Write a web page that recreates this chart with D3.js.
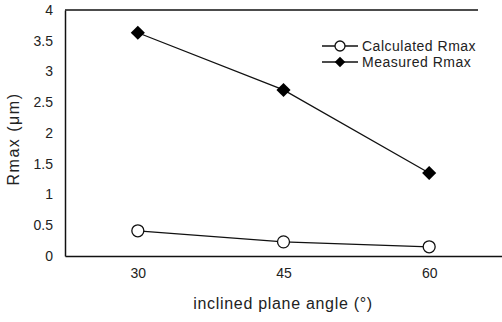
<!DOCTYPE html>
<html>
<head>
<meta charset="utf-8">
<script src="https://cdn.jsdelivr.net/npm/d3@7"></script>
<style>
  body { margin: 0; background: #fff; }
  text { font-family: "Liberation Sans", Arial, sans-serif; fill: #222; }
</style>
</head>
<body>
<div id="chart"></div>
<script>
const angles = ['30', '45', '60'];
const calculated = [0.41, 0.23, 0.15];
const measured = [3.63, 2.70, 1.35];
const yTicks = [0, 0.5, 1, 1.5, 2, 2.5, 3, 3.5, 4];

const width = 502;
const height = 322;
const plotLeft = 65, plotRight = 502, plotTop = 10, plotBottom = 256;

const svg = d3.select('#chart')
  .append('svg')
  .attr('width', width)
  .attr('height', height);

const xScale = d3.scalePoint()
  .domain(angles)
  .range([plotLeft, plotRight])
  .padding(0.5);

const yScale = d3.scaleLinear()
  .domain([0, 4])
  .range([plotBottom, plotTop]);

// frame
svg.append('line')
  .attr('x1', plotLeft).attr('x2', 478)
  .attr('y1', plotTop).attr('y2', plotTop)
  .attr('stroke', '#111').attr('stroke-width', 1.5);

const styleText = g => g.selectAll('text')
  .attr('font-size', 14)
  .style('font-family', '"Liberation Sans", Arial, sans-serif')
  .attr('fill', '#222');

const yAxis = d3.axisLeft(yScale).tickValues(yTicks).tickSize(0).tickPadding(12)
  .tickFormat(d => d);
svg.append('g')
  .attr('transform', `translate(${plotLeft},0)`)
  .call(yAxis)
  .call(g => g.select('.domain').attr('stroke', '#111').attr('stroke-width', 1.5))
  .call(styleText);

const xAxis = d3.axisBottom(xScale).tickSize(0).tickPadding(12);
svg.append('g')
  .attr('transform', `translate(0,${plotBottom})`)
  .call(xAxis)
  .call(g => g.select('.domain').attr('stroke', '#111').attr('stroke-width', 1.5))
  .call(styleText);

// titles
svg.append('text')
  .attr('x', 283).attr('y', 309)
  .attr('text-anchor', 'middle')
  .attr('font-size', 16)
  .attr('letter-spacing', 0.7)
  .text('inclined plane angle (°)');

svg.append('text')
  .attr('transform', 'translate(19,139) rotate(-90)')
  .attr('text-anchor', 'middle')
  .attr('font-size', 16)
  .attr('letter-spacing', 1.5)
  .text('Rmax (μm)');

const line = d3.line()
  .x((d, i) => xScale(angles[i]))
  .y(d => yScale(d));

const diamond = d3.symbol().type(d3.symbolSquare).size(100);

// calculated series
svg.append('path')
  .datum(calculated)
  .attr('d', line)
  .attr('fill', 'none')
  .attr('stroke', '#111')
  .attr('stroke-width', 1.3);
svg.selectAll('.calc')
  .data(calculated)
  .join('circle')
  .attr('class', 'calc')
  .attr('cx', (d, i) => xScale(angles[i]))
  .attr('cy', d => yScale(d))
  .attr('r', 6)
  .attr('fill', '#fff')
  .attr('stroke', '#111')
  .attr('stroke-width', 1.3);

// measured series
svg.append('path')
  .datum(measured)
  .attr('d', line)
  .attr('fill', 'none')
  .attr('stroke', '#111')
  .attr('stroke-width', 1.3);
svg.selectAll('.meas')
  .data(measured)
  .join('path')
  .attr('class', 'meas')
  .attr('transform', (d, i) => `translate(${xScale(angles[i])},${yScale(d)}) rotate(45)`)
  .attr('d', diamond)
  .attr('fill', '#000');

// legend
const legend = [
  { name: 'Calculated Rmax', type: 'circle' },
  { name: 'Measured Rmax', type: 'diamond' }
];
legend.forEach((item, i) => {
  const y = 46 + i * 16;
  svg.append('line')
    .attr('x1', 322).attr('x2', 358)
    .attr('y1', y).attr('y2', y)
    .attr('stroke', '#111').attr('stroke-width', 1.3);
  if (item.type === 'circle') {
    svg.append('circle')
      .attr('cx', 340).attr('cy', y).attr('r', 5)
      .attr('fill', '#fff').attr('stroke', '#111').attr('stroke-width', 1.3);
  } else {
    svg.append('path')
      .attr('transform', `translate(340,${y}) rotate(45)`)
      .attr('d', d3.symbol().type(d3.symbolSquare).size(55))
      .attr('fill', '#000');
  }
  svg.append('text')
    .attr('x', 362).attr('y', y + 5)
    .attr('font-size', 14)
    .attr('letter-spacing', 0.5)
    .text(item.name);
});
</script>
</body>
</html>
